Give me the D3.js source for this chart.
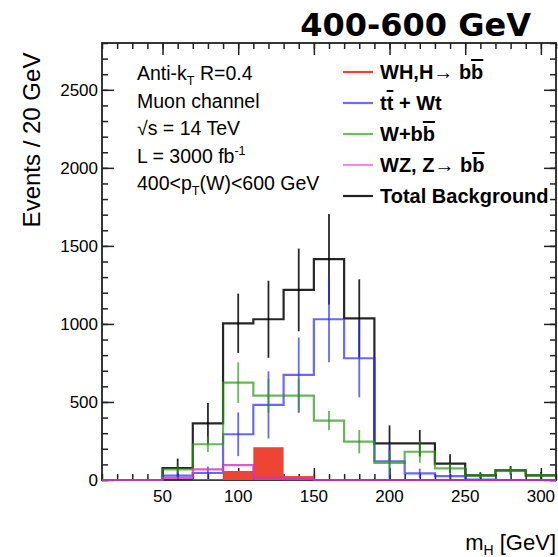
<!DOCTYPE html>
<html><head><meta charset="utf-8">
<script src="https://cdn.jsdelivr.net/npm/d3@7"></script>
<style>
html,body{margin:0;padding:0;background:#fff;}
text{font-family:"Liberation Sans",Arial,Helvetica,sans-serif;fill:#000;}
</style></head>
<body>
<script>
// ---- data ----
const binWidth = 20;
const binCenters = [20,40,60,80,100,120,140,160,180,200,220,240,260,280,300];
const totalBkg    = [0,0,77,363,1004,1030,1218,1415,1036,235,235,105,30,62,30];
const totalErr    = [0,0,60,130,190,247,265,290,250,115,85,60,20,28,20];
const ttbar       = [0,0,28,45,293,481,673,1030,780,120,43,25,3,0,0];
const ttbarErr    = [0,0,20,40,140,215,240,275,250,117,30,20,0,0,0];
const wbb         = [0,0,68,229,624,540,540,380,246,110,181,75,28,60,30];
const wbbErr      = [0,0,25,50,130,110,110,62,75,80,70,30,15,25,15];
const wz          = [0,0,13,68,95,15,5,0,0,0,0,0,0,0,0];
const whSignal    = [0,0,0,5,58,210,25,3,0,0,0,0,0,0,0];
const yTicks = [0,500,1000,1500,2000,2500];
const xTicks = [50,100,150,200,250,300];
const legendLabels = ["WH,H→ b|b", "t|t + Wt", "W+b|b", "WZ, Z→ b|b", "Total Background"];
const infoLines = ["Anti-k_T R=0.4","Muon channel","√s = 14 TeV","L = 3000 fb^-1","400<p_T(W)<600 GeV"];

const W=558,H=557;
const svg=d3.select("body").append("svg").attr("width",W).attr("height",H);
const x=d3.scaleLinear().domain([10,310]).range([102,556]);
const y=d3.scaleLinear().domain([0,2800]).range([480,43]);

const colors={wh:"#ee4433",tt:"rgba(40,40,255,0.7)",wbb:"rgba(40,150,20,0.7)",wz:"rgba(210,50,190,0.8)",tot:"rgba(0,0,0,0.85)"};

// ---- axes / frame (drawn first, histograms on top) ----
const fr=svg.append("g");
fr.append("rect").attr("x",x(10)).attr("y",y(2800)).attr("width",x(310)-x(10)).attr("height",y(0)-y(2800))
  .attr("fill","none").attr("stroke","#222").attr("stroke-width",1.8);
const minorY=d3.range(0,2801,100), minorX=d3.range(10,311,10);
function ax(gen,scale,vals,size,tx,ty){
  const a=fr.append("g").attr("transform",`translate(${tx},${ty})`).call(gen(scale).tickValues(vals).tickSize(size).tickFormat(""));
  a.select(".domain").remove();
  a.selectAll("line").attr("stroke","#222").attr("stroke-width",1.5);
}
ax(d3.axisLeft,y,minorY,-6,x(10),0); ax(d3.axisLeft,y,yTicks,-12,x(10),0);
ax(d3.axisRight,y,minorY,-6,x(310),0); ax(d3.axisRight,y,yTicks,-12,x(310),0);
ax(d3.axisBottom,x,minorX,-6,0,y(0)); ax(d3.axisBottom,x,xTicks,-12,0,y(0));
ax(d3.axisTop,x,minorX,-6,0,y(2800)); ax(d3.axisTop,x,xTicks,-12,0,y(2800));

fr.selectAll(null).data(yTicks).enter().append("text").attr("x",x(10)-4).attr("y",d=>y(d)+6)
  .attr("text-anchor","end").attr("font-size",17).text(d=>d);
fr.selectAll(null).data(xTicks).enter().append("text").attr("x",d=>x(d)).attr("y",y(0)+22)
  .attr("text-anchor","middle").attr("font-size",17).text(d=>d);

function stepPts(vals){
  const pts=vals.map((v,i)=>[binCenters[i]-binWidth/2,v]);
  pts.push([binCenters[vals.length-1]+binWidth/2,vals[vals.length-1]]);
  return pts;
}
const line=d3.line().x(d=>x(d[0])).y(d=>y(d[1])).curve(d3.curveStepAfter);
const g=svg.append("g");

function drawHist(vals,errs,col){
  g.append("path").attr("d",line(stepPts(vals))).attr("fill","none").attr("stroke",col).attr("stroke-width",2.2);
  if(errs){
    g.selectAll(null).data(vals.map((v,i)=>({c:binCenters[i],v,e:errs[i]})).filter(d=>d.e>0))
     .enter().append("line")
     .attr("x1",d=>x(d.c)).attr("x2",d=>x(d.c))
     .attr("y1",d=>y(Math.min(2800,d.v+d.e))).attr("y2",d=>y(Math.max(0,d.v-d.e)))
     .attr("stroke",col).attr("stroke-width",1.8);
  }
}
drawHist(totalBkg,totalErr,colors.tot);
drawHist(ttbar,ttbarErr,colors.tt);
drawHist(wbb,wbbErr,colors.wbb);
g.selectAll(null).data(whSignal.map((v,i)=>({c:binCenters[i],v}))).enter().append("rect")
 .attr("x",d=>x(d.c-binWidth/2)).attr("width",d=>x(d.c+binWidth/2)-x(d.c-binWidth/2))
 .attr("y",d=>y(d.v)).attr("height",d=>y(0)-y(d.v)).attr("fill",colors.wh);
drawHist(wz,null,colors.wz);

// titles
svg.append("text").attr("x",531).attr("y",36).attr("text-anchor","end")
  .style("font-family","'DejaVu Sans',sans-serif").attr("font-weight","bold").attr("font-size",32).text("400-600 GeV");
svg.append("text").attr("transform","translate(40,140) rotate(-90)").attr("text-anchor","middle")
  .attr("font-size",24).text("Events / 20 GeV");
const xl=svg.append("text").attr("x",556).attr("y",550).attr("text-anchor","end").attr("font-size",22);
xl.append("tspan").text("m");
xl.append("tspan").attr("font-size",14).attr("dy",5).text("H");
xl.append("tspan").attr("dy",-5).text(" [GeV]");

// info text: _X subscript, ^X superscript
function richText(sel,str){
  const re=/(_[A-Za-z]+|\^[-0-9]+)/g; let last=0,m,back=0;
  const plain=s=>{ const t=sel.append("tspan").text(s); if(back){t.attr("dy",back);back=0;} };
  while((m=re.exec(str))){
    if(m.index>last) plain(str.slice(last,m.index));
    const sub=m[0][0]==="_";
    sel.append("tspan").attr("font-size","0.65em").attr("dy",(sub?5:-8)+back).text(m[0].slice(1));
    back=sub?-5:8;
    last=m.index+m[0].length;
  }
  if(last<str.length) plain(str.slice(last));
}
infoLines.forEach((s,i)=>{
  const t=svg.append("text").attr("x",137).attr("y",80+i*27.5).attr("font-size",19.5);
  richText(t,s);
});

// legend
const legColors=[colors.wh,"rgba(60,60,255,0.75)","rgba(60,170,40,0.75)","rgba(230,110,230,0.8)","#222"];
legendLabels.forEach((s,i)=>{
  const yy=72+i*31;
  svg.append("line").attr("x1",343).attr("x2",373).attr("y1",yy).attr("y2",yy).attr("stroke",legColors[i]).attr("stroke-width",2.2);
  const t=svg.append("text").attr("x",380).attr("y",yy+7).attr("font-size",20).attr("font-weight","bold");
  const parts=s.split("|");
  t.append("tspan").text(parts[0]);
  if(parts.length>1){
    t.append("tspan").style("text-decoration","overline").text(parts[1][0]);
    t.append("tspan").text(parts[1].slice(1));
  }
});
</script>
</body></html>
